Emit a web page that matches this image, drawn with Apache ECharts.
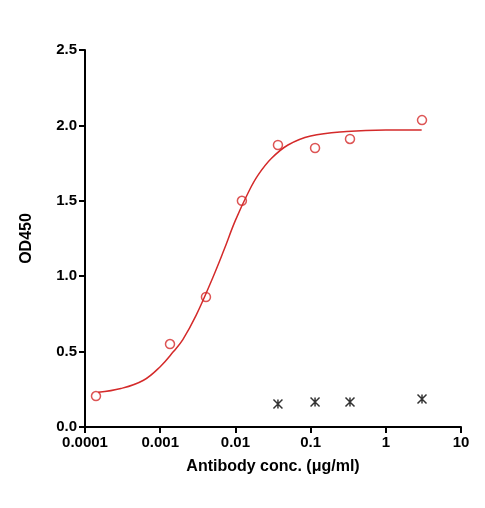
<!DOCTYPE html>
<html><head><meta charset="utf-8">
<script src="https://cdn.jsdelivr.net/npm/echarts@6/dist/echarts.min.js"></script>
<style>html,body{margin:0;padding:0;background:#fff}#c{width:485px;height:508px}</style>
</head><body><div id="c"></div>
<script>
const pointX = [0.00014, 0.00135, 0.00406, 0.0122, 0.0368, 0.1146, 0.334, 3.03];
const pointY = [0.205, 0.55, 0.862, 1.50, 1.87, 1.85, 1.91, 2.035];
const crossX = [0.0368, 0.1146, 0.334, 3.03];
const crossY = [0.153, 0.166, 0.166, 0.186];
const curveX = [0.00015,0.0003,0.0006,0.001,0.0015,0.002,0.003,0.005,0.007,0.01,0.015,0.02,0.03,0.05,0.1,0.3,1,3];
const curveY = [0.23,0.255,0.31,0.40,0.50,0.58,0.74,0.99,1.17,1.37,1.56,1.67,1.78,1.87,1.93,1.96,1.97,1.97];
const xTickLabels = {'-4':'0.0001','-3':'0.001','-2':'0.01','-1':'0.1','0':'1','1':'10'};
const zip=(a,b)=>a.map((v,i)=>[v,b[i]]);
const font={fontFamily:'Liberation Sans, Arial',fontWeight:'bold',fontSize:15,color:'#000'};
const axLine={lineStyle:{color:'#000',width:2}};
const ch=echarts.init(document.getElementById('c'));
ch.setOption({
 animation:false,
 grid:{left:85,right:24,top:50,bottom:81},
 xAxis:{type:'log',min:0.0001,max:10,logBase:10,
  name:'Antibody conc. (μg/ml)',nameLocation:'middle',nameGap:32,
  nameTextStyle:Object.assign({},font,{fontSize:16}),
  axisLine:axLine,axisTick:{show:true,length:6,lineStyle:{color:'#000',width:2}},
  minorTick:{show:false},splitLine:{show:false},
  axisLabel:Object.assign({},font,{formatter:v=>xTickLabels[String(Math.round(Math.log10(v)))]||''})},
 yAxis:{type:'value',min:0,max:2.5,interval:0.5,
  name:'OD450',nameLocation:'middle',nameGap:50,
  nameTextStyle:Object.assign({},font,{fontSize:16}),
  axisLine:Object.assign({show:true},axLine),axisTick:{show:true,length:6,lineStyle:{color:'#000',width:2}},
  splitLine:{show:false},
  axisLabel:Object.assign({},font,{formatter:v=>v.toFixed(1)})},
 series:[
  {type:'line',data:zip(curveX,curveY),smooth:0.4,showSymbol:false,lineStyle:{color:'#d42a2a',width:1.5}},
  {type:'scatter',data:zip(pointX,pointY),symbol:'circle',symbolSize:9,
   itemStyle:{color:'#fff',borderColor:'#d42a2a',borderWidth:1.5}},
  {type:'scatter',data:zip(crossX,crossY),symbol:'path://M0,0L10,10M10,0L0,10M5,0L5,10',symbolSize:9,
   itemStyle:{color:'none',borderColor:'#000',borderWidth:1.5}}
 ]
});
</script></body></html>
